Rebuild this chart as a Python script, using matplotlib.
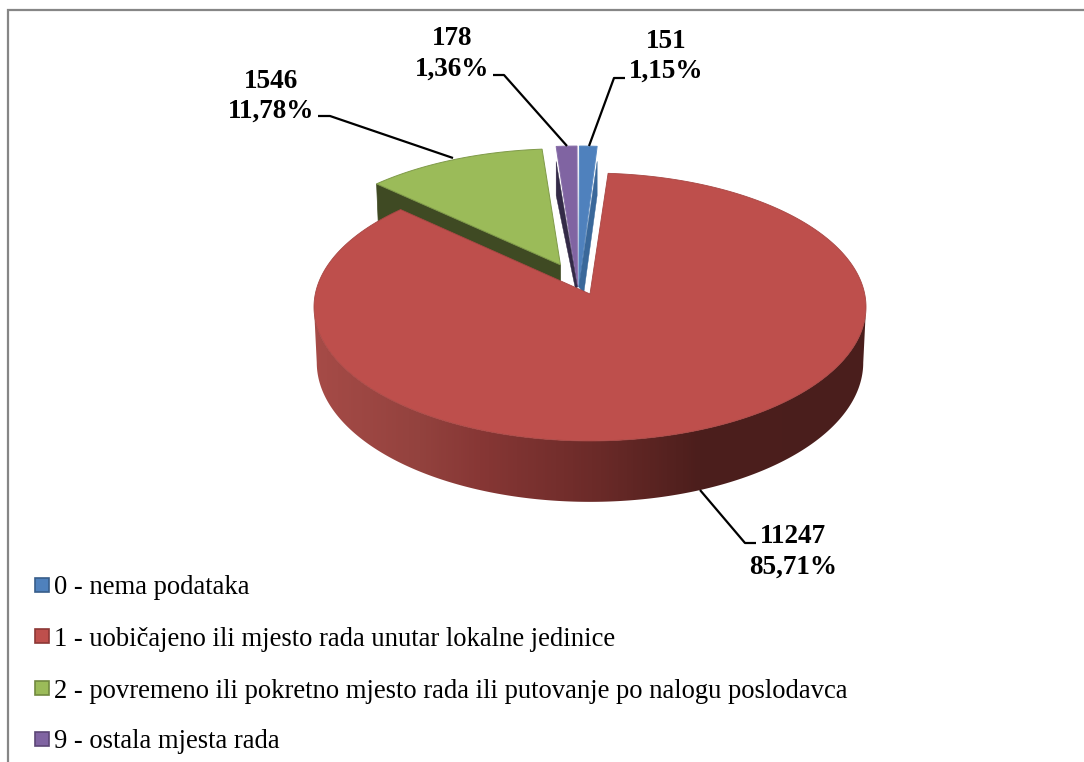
import matplotlib
matplotlib.use('Agg')
import matplotlib.pyplot as plt
import numpy as np
from matplotlib.colors import LinearSegmentedColormap
from matplotlib.patches import Polygon, Rectangle

# values, clockwise from 12 o'clock
categories = ['0 - nema podataka',
              '1 - uobičajeno ili mjesto rada unutar lokalne jedinice',
              '2 - povremeno ili pokretno mjesto rada ili putovanje po nalogu poslodavca',
              '9 - ostala mjesta rada']
values = [151, 11247, 1546, 178]

top_colors = ['#4F81BD', '#BE4F4C', '#9BBB59', '#8064A2']
edge_colors = ['#5A8AC2', '#A84643', '#7F9A49', '#8A70AA']
wall_colors = ['#3A689A', '#4A1E1C', '#3F4A23', '#332A47']
swatch_edges = ['#385D8A', '#8C3836', '#71893F', '#5C4776']

# slice shift on the disc, in disc radii
explode = [(-0.043, -0.25), (0.0, 0.0), (-0.11, -0.2245), (-0.053, -0.25)]
# where the narrow slices have their tip on the disc
tips = {0: (-0.041, -0.053), 3: (-0.046, -0.053)}
# pixels from the tip to the lower end of the narrow slices' side face
tip_drop = {0: (5, 6), 3: (-2, 2)}

# label position, baseline of both lines
label_pos = [(666, 48, 78), (793, 543, 574), (271, 88, 118), (452, 45, 76)]
leaders = [[(589, 146), (614, 78), (625, 78)],
           [(700, 490), (745, 543), (756, 543)],
           [(453, 158), (330, 116), (318, 116)],
           [(567, 146), (504, 75), (493, 75)]]
legend_base = [593.5, 646.5, 697.5, 748.5]
legend_box = [578, 629, 681, 732]

CX, CY = 590, 294
A, B, K = 274.7, 132.7, 0.097
H = 55
SHRINK = 0.99


def top_xy(u, v):
    w = 1 - K * v
    return CX + A * u / w, CY + B * v / w


def low_xy(u, v):
    x, y = top_xy(u, v)
    return CX + (x - CX) * SHRINK, y + H / (1 - K * v)


def disc(theta):
    t = np.radians(theta)
    return np.sin(t), -np.cos(t)


plt.rcParams['font.family'] = ['Liberation Serif', 'DejaVu Serif']
fig = plt.figure(figsize=(10.84, 7.62), dpi=100)
ax = fig.add_axes([0, 0, 1, 1])
ax.axis('off')

total = sum(values)
edges = np.concatenate([[0], np.cumsum(values)]) / total * 360

# wall of the big slice with the left to right shading, between the widest points of the disc
n = np.linspace(95.6, 264.4, 240)
u, v = disc(n)
tx, ty = top_xy(u, v)
lx, ly = low_xy(u, v)
wall = Polygon(np.column_stack([np.r_[tx, lx[::-1]], np.r_[ty, ly[::-1]]]), closed=True,
               transform=ax.transData, fc='none', ec='none')
ax.add_patch(wall)
shade = LinearSegmentedColormap.from_list('wall', [(0.0, '#A64B47'), (0.19, '#93423E'), (0.30, '#873735'),
                                                   (0.52, '#6A2A28'), (0.70, '#4C1E1C'), (1.0, '#4A1E1C')])
im = ax.imshow(np.linspace(0, 1, 552).reshape(1, -1), cmap=shade, extent=(314, 866, 520, 290), aspect='auto', zorder=1)
im.set_clip_path(wall)

# the three small slices first, the big one goes over them
for i in [2, 3, 0]:
    du, dv = explode[i]
    u, v = disc(np.linspace(edges[i], edges[i + 1], 40))
    tu, tv = tips.get(i, (du, dv))
    u, v = np.r_[tu, u + du], np.r_[tv, v + dv]
    x, y = top_xy(u, v)
    xl, yl = low_xy(u, v)
    ax.add_patch(Polygon(np.column_stack([x, y]), closed=True, fc=top_colors[i], ec=edge_colors[i], lw=0.7, zorder=3))
    if i == 2:
        face = [(x[0], y[0]), (x[1], y[1]), (xl[1], yl[1]), (xl[0], yl[0])]
        ax.add_patch(Polygon(face, closed=True, fc=wall_colors[i], ec=wall_colors[i], lw=0.5, zorder=2))
    else:
        # the side face of a narrow slice lies partly over its top
        k = -1 if i == 0 else 1
        drop = tip_drop[i]
        face = [(x[k], y[k] + 15), (x[k], yl[k]), (x[0] + drop[0], y[0] + drop[1]), (x[0], y[0])]
        ax.add_patch(Polygon(face, closed=True, fc=wall_colors[i], ec=wall_colors[i], lw=0.3, zorder=3.5))

# top of the big slice
u, v = disc(np.linspace(edges[1], edges[2], 400))
x, y = top_xy(np.r_[0, u], np.r_[0, v])
ax.add_patch(Polygon(np.column_stack([x, y]), closed=True, fc=top_colors[1], ec=edge_colors[1], lw=0.6, zorder=4))

# leader lines and labels
for i in range(len(values)):
    pts = np.array(leaders[i])
    ax.plot(pts[:, 0], pts[:, 1], color='black', lw=1.6, zorder=5, solid_capstyle='butt')
    px, b1, b2 = label_pos[i]
    pct = f'{values[i] / total * 100:.2f}%'.replace('.', ',')
    ax.text(px, b1, str(values[i]), ha='center', va='baseline', fontsize=19.5, fontweight='bold', zorder=6)
    ax.text(px, b2, pct, ha='center', va='baseline', fontsize=19.5, fontweight='bold', zorder=6)

# legend
for i in range(len(values)):
    ax.add_patch(Rectangle((34.5, legend_box[i]), 14, 14, fc=top_colors[i], ec=swatch_edges[i], lw=1.2, zorder=5))
    ax.text(54, legend_base[i], categories[i], ha='left', va='baseline', fontsize=19.2, color='#000000', zorder=6)

# chart frame, cut off at the right and bottom of the picture
ax.plot([7.5, 7.5, 1084], [762, 9.5, 9.5], color='#868686', lw=1.6, zorder=7, solid_joinstyle='miter')

ax.set_xlim(0, 1084)
ax.set_ylim(762, 0)
fig.savefig('out.png', dpi=100)
